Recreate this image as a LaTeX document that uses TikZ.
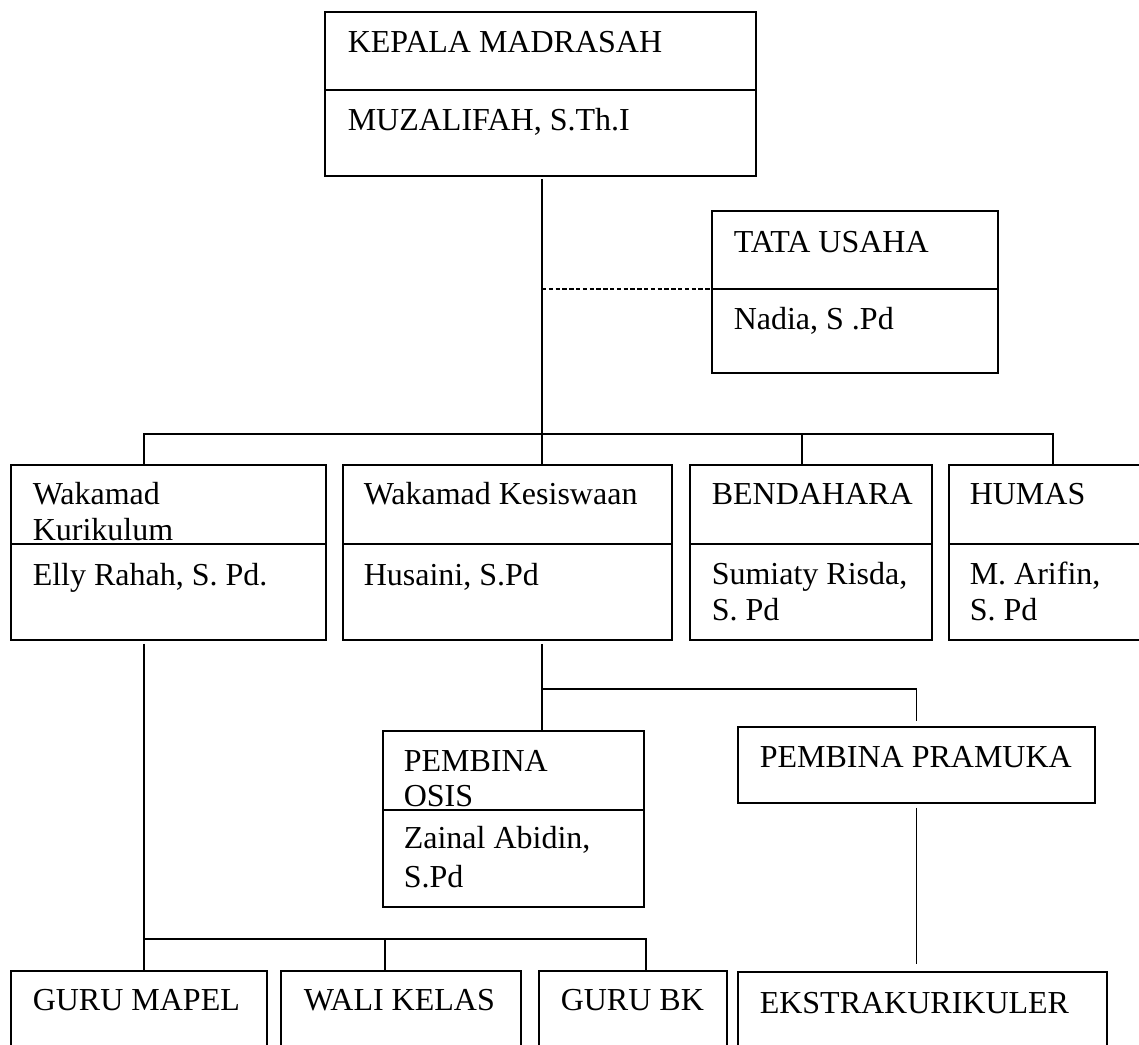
\documentclass[tikz,border=0pt]{standalone}
\usepackage{fontspec}
\setmainfont{Liberation Serif}
\usetikzlibrary{fit}

\begin{document}
\begin{tikzpicture}[x=0.5pt, y=-0.5pt, line width=0.75pt, every node/.style={font=\fontsize{16}{19}\selectfont}, box/.style={draw, rectangle, inner sep=0pt, fit={#1}}, lbl/.style={anchor=base west, inner sep=0pt}]
  \useasboundingbox (0,0) rectangle (1139,1044);
  \clip (0,0) rectangle (1139,1044);

  % kepala madrasah
  \node[box={(325,12) (756,176)}] (kepala) {};
  \draw (kepala.west |- 0,90) -- (kepala.east |- 0,90);
  \node[lbl] (kepalaT) at (347,52) {KEPALA MADRASAH};
  \node[lbl] (kepalaN) at (347,130) {MUZALIFAH, S.Th.I};

  % tata usaha
  \node[box={(712,211) (998,373)}] (tu) {};
  \draw (tu.west |- 0,289) -- (tu.east |- 0,289);
  \node[lbl] (tuT) at (733,252) {TATA USAHA};
  \node[lbl] (tuN) at (733,329) {Nadia, S .Pd};

  % wakamad, bendahara, humas
  \node[box={(11,465) (326,640)}] (kurikulum) {};
  \draw (kurikulum.west |- 0,544) -- (kurikulum.east |- 0,544);
  \node[lbl] (kurikulumT1) at (32,504) {Wakamad};
  \node[lbl] (kurikulumT2) at (32,540) {Kurikulum};
  \node[lbl] (kurikulumN) at (32,585) {Elly Rahah, S. Pd.};

  \node[box={(343,465) (672,640)}] (kesiswaan) {};
  \draw (kesiswaan.west |- 0,544) -- (kesiswaan.east |- 0,544);
  \node[lbl] (kesiswaanT) at (363,504) {Wakamad Kesiswaan};
  \node[lbl] (kesiswaanN) at (363,585) {Husaini, S.Pd};

  \node[box={(690,465) (932,640)}] (bendahara) {};
  \draw (bendahara.west |- 0,544) -- (bendahara.east |- 0,544);
  \node[lbl] (bendaharaT) at (711,504) {BENDAHARA};
  \node[lbl] (bendaharaN1) at (711,584) {Sumiaty Risda,};
  \node[lbl] (bendaharaN2) at (711,620) {S. Pd};

  \node[box={(949,465) (1150,640)}] (humas) {};
  \draw (humas.west |- 0,544) -- (humas.east |- 0,544);
  \node[lbl] (humasT) at (969,504) {HUMAS};
  \node[lbl] (humasN1) at (969,584) {M. Arifin,};
  \node[lbl] (humasN2) at (969,620) {S. Pd};

  % pembina
  \node[box={(383,731) (644,907)}] (osis) {};
  \draw (osis.west |- 0,810) -- (osis.east |- 0,810);
  \node[lbl] (osisT1) at (403,771) {PEMBINA};
  \node[lbl] (osisT2) at (403,806) {OSIS};
  \node[lbl] (osisN1) at (403,848) {Zainal Abidin,};
  \node[lbl] (osisN2) at (403,887) {S.Pd};

  \node[box={(738,727) (1095,803)}] (pramuka) {};
  \node[lbl] (pramukaT) at (759,767) {PEMBINA PRAMUKA};

  % bottom row
  \node[box={(11,971) (267,1060)}] (mapel) {};
  \node[lbl] (mapelT) at (32,1010) {GURU MAPEL};
  \node[box={(281,971) (521,1060)}] (wali) {};
  \node[lbl] (waliT) at (303,1010) {WALI KELAS};
  \node[box={(539,971) (727,1060)}] (bk) {};
  \node[lbl] (bkT) at (560,1010) {GURU BK};
  \node[box={(738,972) (1107,1060)}] (ekstra) {};
  \node[lbl] (ekstraT) at (759,1013) {EKSTRAKURIKULER};

  % connectors
  \coordinate (bus) at (542,434);
  \coordinate (busL) at (144,434);
  \coordinate (busR) at (1053,434);
  \coordinate (bendL) at (802,434);
  \coordinate (tuLink) at (542,289);
  \coordinate (kesB) at (542,689);
  \coordinate (kurB) at (144,939);
  \coordinate (kurR) at (646,939);
  \coordinate (waliC) at (385,939);

  \draw[shorten <=1pt] (bus |- kepala.south) -- (bus |- kesiswaan.north);
  \draw[dash pattern=on 2.2pt off 1.2pt] (tuLink) -- (tuLink -| tu.west);
  \draw (busL |- kurikulum.north) -- (busL) -- (busR) -- (busR |- humas.north);
  \draw (bendL) -- (bendL |- bendahara.north);

  \draw[shorten <=1.5pt] (kesB |- kesiswaan.south) -- (kesB |- osis.north);
  \draw[shorten >=2.5pt] (kesB) -- (kesB -| pramuka.north) -- (pramuka.north);
  \draw[shorten <=2pt, shorten >=3.5pt] (pramuka.south) -- (pramuka.south |- ekstra.north);

  \draw[shorten <=1.5pt] (kurB |- kurikulum.south) -- (kurB |- mapel.north);
  \draw (kurB) -- (kurR) -- (kurR |- bk.north);
  \draw (waliC) -- (waliC |- wali.north);
\end{tikzpicture}
\end{document}
